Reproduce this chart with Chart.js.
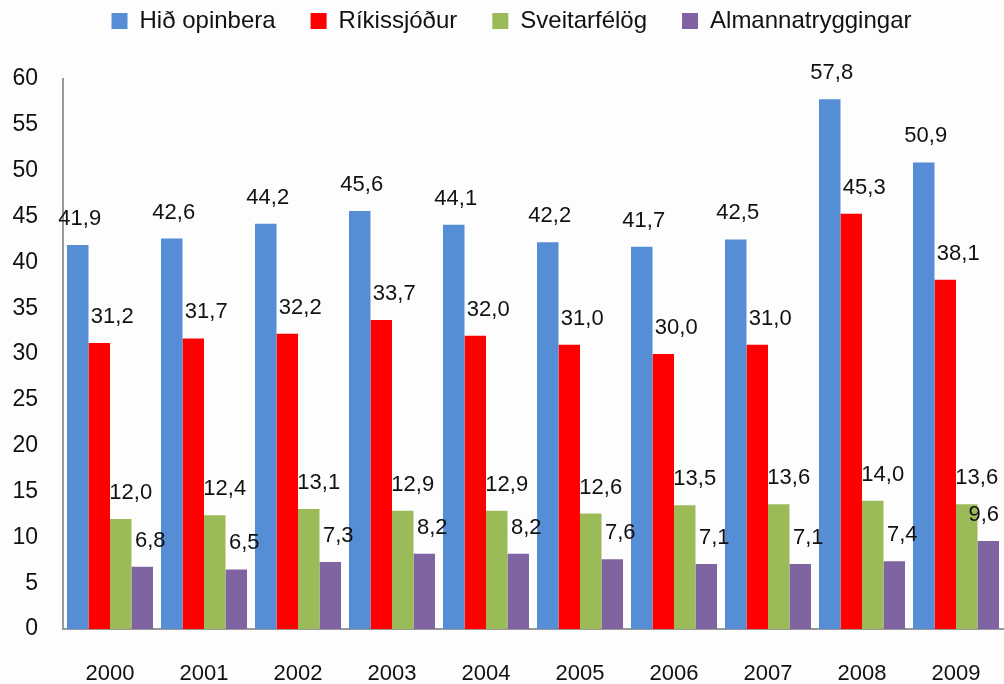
<!DOCTYPE html>
<html>
<head>
<meta charset="utf-8">
<script src="https://cdn.jsdelivr.net/npm/chart.js@4/dist/chart.umd.min.js"></script>
<style>
html,body{margin:0;padding:0;background:#fdfdfd;}
#wrap{width:1004px;height:684px;position:relative;}
</style>
</head>
<body>
<div id="wrap"><canvas id="c" width="1004" height="684"></canvas></div>
<script>
const categories = ['2000','2001','2002','2003','2004','2005','2006','2007','2008','2009'];
const hidOpinbera = [41.9, 42.6, 44.2, 45.6, 44.1, 42.2, 41.7, 42.5, 57.8, 50.9];
const rikissjodur = [31.2, 31.7, 32.2, 33.7, 32.0, 31.0, 30.0, 31.0, 45.3, 38.1];
const sveitarfelog = [12.0, 12.4, 13.1, 12.9, 12.9, 12.6, 13.5, 13.6, 14.0, 13.6];
const almannatryggingar = [6.8, 6.5, 7.3, 8.2, 8.2, 7.6, 7.1, 7.1, 7.4, 9.6];
const seriesNames = ['Hið opinbera', 'Ríkissjóður', 'Sveitarfélög', 'Almannatryggingar'];
const seriesColors = ['#558ed5', '#ff0000', '#9bbb59', '#8064a2'];
const labelDx = [2, 13, 10, 8];

const FONT = "'Liberation Sans', Arial, sans-serif";

const legendSpace = {
  id: 'legendSpace',
  beforeLayout(chart) {
    const lg = chart.legend;
    if (lg && !lg._wrappedFit) {
      const origFit = lg.fit;
      lg.fit = function () { origFit.call(this); this.height += 36; };
      const origDraw = lg.draw;
      lg.draw = function () {
        const ctx = this.ctx;
        ctx.save();
        ctx.translate(10, 0);
        origDraw.apply(this, arguments);
        ctx.restore();
      };
      lg._wrappedFit = true;
    }
  }
};

const valueLabels = {
  id: 'valueLabels',
  afterDatasetsDraw(chart) {
    const ctx = chart.ctx;
    ctx.save();
    ctx.font = '22px ' + FONT;
    ctx.fillStyle = '#111';
    ctx.textAlign = 'center';
    ctx.textBaseline = 'middle';
    const maxRight = chart.width - 5;
    chart.data.datasets.forEach((ds, di) => {
      const meta = chart.getDatasetMeta(di);
      meta.data.forEach((bar, i) => {
        const txt = ds.data[i].toFixed(1).replace('.', ',');
        const w = ctx.measureText(txt).width;
        let x = bar.x + labelDx[di];
        if (x + w / 2 > maxRight) x = maxRight - w / 2;
        ctx.fillText(txt, x, bar.y - 26);
      });
    });
    ctx.restore();
  }
};

new Chart(document.getElementById('c'), {
  type: 'bar',
  data: {
    labels: categories,
    datasets: [hidOpinbera, rikissjodur, sveitarfelog, almannatryggingar].map((d, i) => ({
      label: seriesNames[i],
      data: d,
      backgroundColor: seriesColors[i],
      borderWidth: 0,
      barPercentage: 1.0,
      categoryPercentage: 0.915
    }))
  },
  options: {
    responsive: false,
    animation: false,
    layout: { padding: { top: -26, right: 1, left: 0, bottom: 0 } },
    plugins: {
      legend: {
        position: 'top',
        labels: {
          font: { family: FONT, size: 24 },
          color: '#111',
          boxWidth: 16,
          boxHeight: 16,
          padding: 35
        }
      },
      tooltip: { enabled: false }
    },
    scales: {
      x: {
        grid: { display: false },
        border: { display: true, color: '#999', width: 2 },
        ticks: { font: { family: FONT, size: 22 }, color: '#111', padding: 24 },
        afterFit(s) { s.height = 55; s.paddingLeft = 0; s.paddingRight = 0; }
      },
      y: {
        min: 0, max: 60,
        grid: { display: false },
        border: { display: true, color: '#999', width: 2 },
        ticks: { stepSize: 5, font: { family: FONT, size: 23 }, color: '#111', padding: 17 },
        afterFit(s) { s.width = 63; }
      }
    }
  },
  plugins: [legendSpace, valueLabels]
});
</script>
</body>
</html>
